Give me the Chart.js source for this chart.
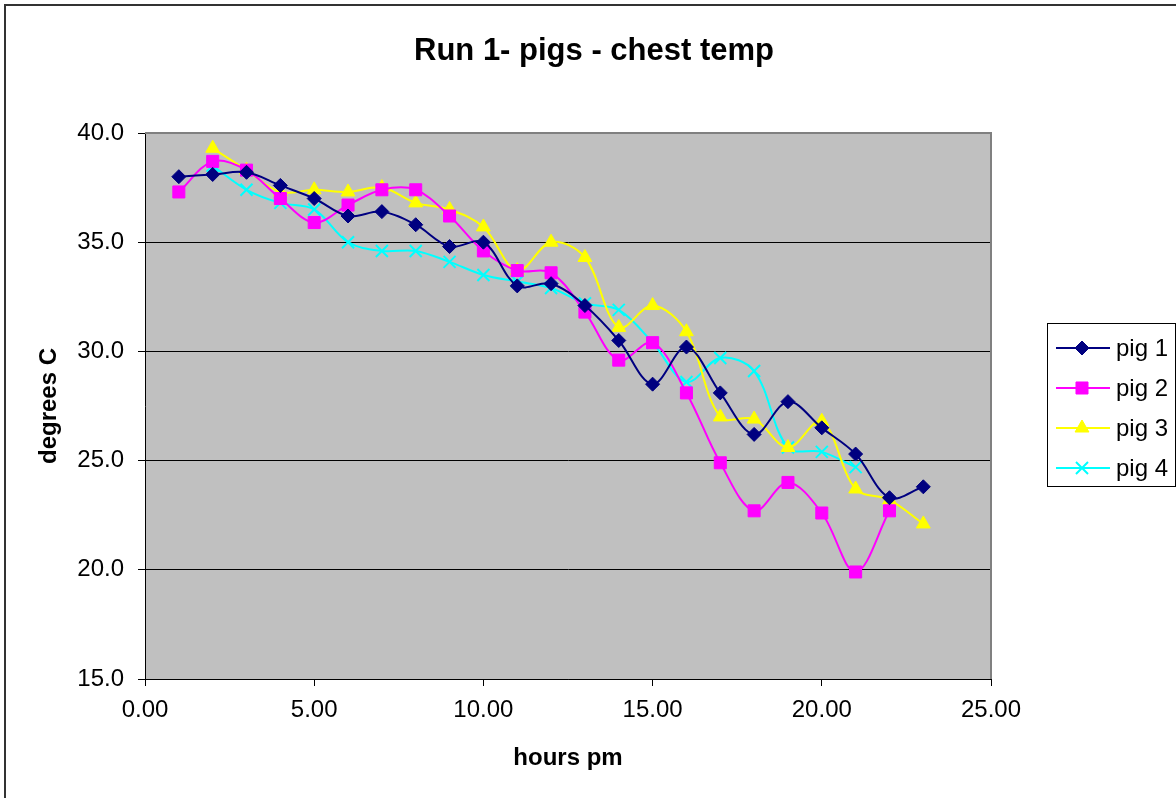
<!DOCTYPE html>
<html>
    <head>
        <meta charset="utf-8"/>
        <title>Run 1- pigs - chest temp</title>
        <script src="https://cdn.jsdelivr.net/npm/chart.js@4.4.1/dist/chart.umd.min.js"></script>
        <style>
            body { margin: 0; background: #fff; overflow: hidden; }
            #wrap { width: 1176px; height: 798px; }
        </style>
    </head>

    <body>
        <div id="wrap">
            <canvas id="chart"></canvas>
        </div>

        <script>
           // readings, one per hour (null = no reading)
           var hours = [1, 2, 3, 4, 5, 6, 7, 8, 9, 10, 11, 12, 13, 14, 15, 16, 17, 18, 19, 20, 21, 22, 23];
           var pig1 = [38.0, 38.1, 38.2, 37.6, 37.0, 36.2, 36.4, 35.8, 34.8, 35.0, 33.0, 33.1, 32.1, 30.5, 28.5, 30.2, 28.1, 26.2, 27.7, 26.5, 25.3, 23.3, 23.8];
           var pig2 = [37.3, 38.7, 38.3, 37.0, 35.9, 36.7, 37.4, 37.4, 36.2, 34.6, 33.7, 33.6, 31.8, 29.6, 30.4, 28.1, 24.9, 22.7, 24.0, 22.6, 19.9, 22.7, null];
           var pig3 = [null, 39.3, 38.3, 37.3, 37.4, 37.3, 37.5, 36.8, 36.5, 35.7, 33.7, 35.0, 34.3, 31.1, 32.1, 30.9, 27.0, 26.9, 25.6, 26.8, 23.7, 23.2, 22.1];
           var pig4 = [null, 38.5, 37.4, 36.8, 36.5, 35.0, 34.6, 34.6, 34.1, 33.5, 33.2, 32.9, 32.2, 31.9, 30.4, 28.6, 29.7, 29.1, 25.6, 25.4, 24.7, null, null];

           var seriesNames = ['pig 1', 'pig 2', 'pig 3', 'pig 4'];
           var seriesColors = ['#000080', '#FF00FF', '#FFFF00', '#00FFFF'];
           var pointStyles = ['rectRot', 'rect', 'triangle', 'crossRot'];
           var pointSizes = [7, 8.5, 8, 8.5];

           var xTicks = [0, 5, 10, 15, 20, 25];
           var yTicks = [15, 20, 25, 30, 35, 40];
           var chartTitle = 'Run 1- pigs - chest temp';

           var toPoints = function(vals) {
                var pts = [];
                for (var i = 0; i < hours.length; i++) {
                    if (vals[i] !== null) pts.push({x: hours[i], y: vals[i]});
                }
                return pts;
           }

           var allSeries = [pig1, pig2, pig3, pig4];
           var datasets = [];
           for (var i = 0; i < allSeries.length; i++) {
                datasets.push({
                    label: seriesNames[i],
                    data: toPoints(allSeries[i]),
                    borderColor: seriesColors[i],
                    backgroundColor: seriesColors[i],
                    pointBackgroundColor: seriesColors[i],
                    pointBorderColor: seriesColors[i],
                    pointStyle: pointStyles[i],
                    pointRadius: pointSizes[i],
                    pointBorderWidth: pointStyles[i] == 'crossRot' ? 2 : 1,
                    borderWidth: 2,
                    tension: 0.35,
                    fill: false
                });
           }

           // white page, outer frame, grey plot area, title over the whole page width
           var frame = {
                id: 'frame',
                beforeDraw: function(chart) {
                    var c = chart.ctx, a = chart.chartArea;
                    c.save();
                    c.fillStyle = '#fff';
                    c.fillRect(0, 0, chart.width, chart.height);
                    c.strokeStyle = '#333';
                    c.lineWidth = 2;
                    c.strokeRect(5, 5, chart.width + 10, chart.height + 10);
                    c.fillStyle = '#C0C0C0';
                    c.fillRect(a.left, a.top, a.right - a.left, a.bottom - a.top);
                    c.fillStyle = '#000';
                    c.font = 'bold 31px "Liberation Sans", Arial, sans-serif';
                    c.textAlign = 'center';
                    c.textBaseline = 'middle';
                    c.fillText(chartTitle, 594, 51);
                    c.restore();
                },
                beforeDatasetsDraw: function(chart) {
                    var c = chart.ctx, a = chart.chartArea;
                    c.save();
                    c.strokeStyle = '#808080';
                    c.lineWidth = 2;
                    c.beginPath();
                    c.moveTo(a.left, a.top);
                    c.lineTo(a.right, a.top);
                    c.lineTo(a.right, a.bottom);
                    c.stroke();
                    c.restore();
                }
           };

           // Excel style legend box: line + marker + name
           var boxLegend = {
                id: 'boxLegend',
                afterDraw: function(chart) {
                    var c = chart.ctx;
                    var bx = 1047, by = 323, bw = 128, bh = 163;
                    c.save();
                    c.strokeStyle = '#000';
                    c.lineWidth = 1;
                    c.strokeRect(bx + 0.5, by + 0.5, bw, bh);
                    c.font = '24px "Liberation Sans", Arial, sans-serif';
                    c.textBaseline = 'middle';
                    chart.data.datasets.forEach(function(ds, i) {
                        var y = by + 25 + i * 40;
                        c.strokeStyle = ds.borderColor;
                        c.lineWidth = 2;
                        c.beginPath();
                        c.moveTo(bx + 9, y);
                        c.lineTo(bx + 63, y);
                        c.stroke();
                        c.fillStyle = ds.pointBackgroundColor;
                        c.strokeStyle = ds.pointBorderColor;
                        c.lineWidth = ds.pointBorderWidth;
                        Chart.helpers.drawPoint(c, {pointStyle: ds.pointStyle, radius: ds.pointRadius, rotation: 0, borderWidth: ds.pointBorderWidth}, bx + 35, y);
                        c.fillStyle = '#000';
                        c.fillText(ds.label, bx + 69, y + 1);
                    });
                    c.restore();
                }
           };

           Chart.defaults.font.family = '"Liberation Sans", Arial, sans-serif';
           Chart.defaults.color = '#000';

           var ctx = document.getElementById("chart");
           var myChart = new Chart(ctx, {
                type: 'line',
                data: { datasets: datasets },
                plugins: [frame, boxLegend],
                options: {
                    animation: false,
                    responsive: true,
                    maintainAspectRatio: false,
                    layout: { padding: { left: 0, right: 185, top: 133, bottom: 0 } },
                    scales: {
                        x: {
                            type: 'linear',
                            min: 0,
                            max: 25,
                            afterBuildTicks: function(s) { s.ticks = xTicks.map(function(v) { return {value: v}; }); },
                            afterFit: function(s) { s.height = 119; },
                            ticks: {
                                font: { size: 24 },
                                padding: 10,
                                maxRotation: 0,
                                callback: function(v) { return v.toFixed(2); }
                            },
                            grid: { drawOnChartArea: false, drawTicks: true, tickLength: 7, color: '#000' },
                            border: { color: '#000', width: 1 },
                            title: {
                                display: true,
                                text: 'hours pm',
                                font: { size: 24, weight: 'bold' },
                                padding: { top: 0, bottom: 25 }
                            }
                        },
                        y: {
                            min: 15,
                            max: 40,
                            afterBuildTicks: function(s) { s.ticks = yTicks.map(function(v) { return {value: v}; }); },
                            afterFit: function(s) { s.width = 145; },
                            ticks: {
                                font: { size: 24 },
                                padding: 14,
                                callback: function(v) { return v.toFixed(1); }
                            },
                            grid: { color: '#000', lineWidth: 1, tickLength: 7 },
                            border: { color: '#000', width: 1 },
                            title: {
                                display: true,
                                text: 'degrees C',
                                font: { size: 24, weight: 'bold' },
                                padding: { top: 35, bottom: 0 }
                            }
                        }
                    },
                    plugins: {
                        legend: { display: false },
                        tooltip: { enabled: false },
                        title: { display: false }
                    }
                }
           });
        </script>
    </body>
</html>
